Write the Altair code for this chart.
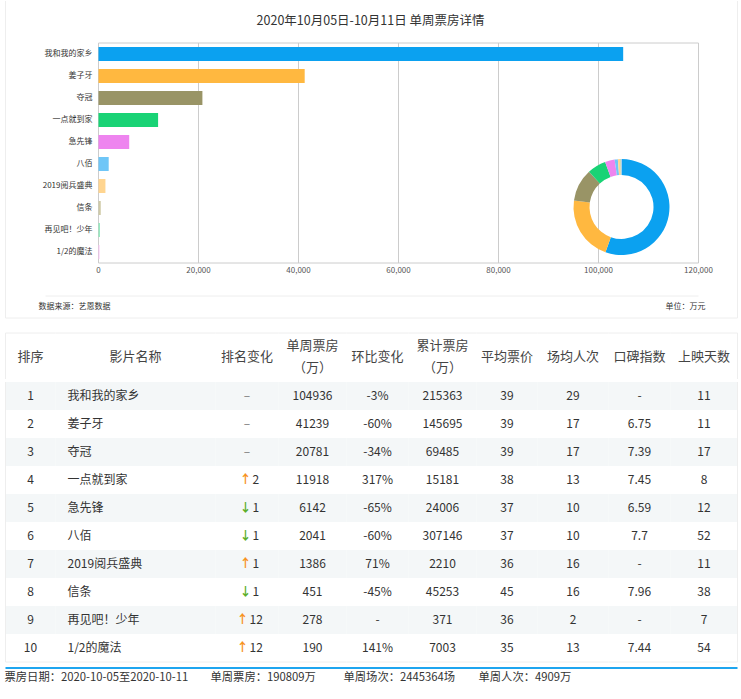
import altair as alt
import pandas as pd

FONT = "Noto Sans CJK SC"

title_text = "2020年10月05日-10月11日 单周票房详情"
source_text = "数据来源：艺恩数据"
unit_text = "单位：万元"

films = ["我和我的家乡", "姜子牙", "夺冠", "一点就到家", "急先锋", "八佰",
         "2019阅兵盛典", "信条", "再见吧！少年", "1/2的魔法"]
weekly = [104936, 41239, 20781, 11918, 6142, 2041, 1386, 451, 278, 190]
colors = ["#0ba1f0", "#ffb840", "#999466", "#19d375", "#ee84ef", "#6fc6f7",
          "#ffd590", "#cfcaa7", "#8ee8ba", "#f9c0f3"]
ranks = list(range(1, 11))
rank_dir = ["", "", "", "up", "down", "down", "up", "down", "up", "up"]
rank_num = ["", "", "", "2", "1", "1", "1", "1", "12", "12"]
wow = ["-3%", "-60%", "-34%", "317%", "-65%", "-60%", "71%", "-45%", "-", "141%"]
total = [215363, 145695, 69485, 15181, 24006, 307146, 2210, 45253, 371, 7003]
avg_price = [39, 39, 39, 38, 37, 37, 36, 45, 36, 35]
avg_people = [29, 17, 17, 13, 10, 10, 16, 16, 2, 13]
score = ["-", "6.75", "7.39", "7.45", "6.59", "7.7", "-", "7.96", "-", "7.44"]
days = [11, 11, 17, 8, 12, 52, 11, 38, 7, 54]
x_ticks = [0, 20000, 40000, 60000, 80000, 100000, 120000]

headers = ["排序", "影片名称", "排名变化", "单周票房\n（万）", "环比变化",
           "累计票房\n（万）", "平均票价", "场均人次", "口碑指数", "上映天数"]
footer_items = ["票房日期：2020-10-05至2020-10-11", "单周票房：190809万",
                "单周场次：2445364场", "单周人次：4909万"]

# ---------------- layout / style ----------------
TOTAL_W = 732
TOP_H = 317
PX0, PX1 = 93, 693      # plot box inside the top panel
PY0, PY1 = 42, 262
GRID = "#cccccc"
FRAME = "#eeeeee"
STRIPE = "#f4f7f8"
TXT = "#333333"
UP = "#f7931e"
DOWN = "#5cae2a"
col_widths = [50, 160, 63, 68, 62, 68, 61, 71, 62, 67]
ROW_H = 28
BODY_H = ROW_H * 10
HEAD_H = 48
HEAD_RULE = 46
LINE_H = 22

df = pd.DataFrame({"film": films, "weekly": weekly, "rank": ranks})
ticks_df = pd.DataFrame({"tick": x_ticks})
one = pd.DataFrame({"d": [0]})

color_scale = alt.Scale(domain=films, range=colors)
xs = alt.Scale(domain=[0, 120000], range=[PX0, PX1], nice=False, zero=True)
ys = alt.Scale(domain=films, range=[PY0, PY1], paddingInner=0.1, paddingOuter=0.05)

grid = alt.Chart(ticks_df).mark_rule(color=GRID).encode(
    x=alt.X("tick:Q", scale=xs, axis=None), y=alt.value(PY0), y2=alt.value(PY1))

xlabels = alt.Chart(ticks_df).mark_text(fontSize=8, color="#555", baseline="middle").encode(
    x=alt.X("tick:Q", scale=xs, axis=None),
    y=alt.value(PY1 + 8),
    text=alt.Text("tick:Q", format=",d"))

frame_box = [
    alt.Chart(one).mark_rule(color=GRID).encode(x=alt.value(PX0), x2=alt.value(PX1), y=alt.value(PY0)),
    alt.Chart(one).mark_rule(color=GRID).encode(x=alt.value(PX0), x2=alt.value(PX1), y=alt.value(PY1)),
]

bars = alt.Chart(df).mark_bar(size=14).encode(
    x=alt.X("weekly:Q", scale=xs, axis=None),
    y=alt.Y("film:N", sort=films, scale=ys, axis=None),
    color=alt.Color("film:N", scale=color_scale, legend=None),
)

ylabels = alt.Chart(df).mark_text(fontSize=8, color=TXT, align="right", baseline="middle").encode(
    y=alt.Y("film:N", sort=films, scale=ys, axis=None),
    x=alt.value(PX0 - 6),
    text="film:N",
)

donut = alt.Chart(df).mark_arc(outerRadius=48, innerRadius=32).encode(
    theta=alt.Theta("weekly:Q", stack=True),
    color=alt.Color("film:N", scale=color_scale, legend=None),
    order=alt.Order("rank:Q"),
    x=alt.value(616), y=alt.value(206),
)

title = alt.Chart(pd.DataFrame({"t": [title_text]})).mark_text(
    fontSize=12.5, color=TXT, baseline="middle").encode(
    text="t:N", x=alt.value(365), y=alt.value(20))

src = alt.Chart(pd.DataFrame({"t": [source_text]})).mark_text(
    fontSize=8, color=TXT, align="left", baseline="middle").encode(
    text="t:N", x=alt.value(33), y=alt.value(306))

unit = alt.Chart(pd.DataFrame({"t": [unit_text]})).mark_text(
    fontSize=8, color=TXT, align="right", baseline="middle").encode(
    text="t:N", x=alt.value(700), y=alt.value(306))

sep = alt.Chart(one).mark_rule(color=FRAME).encode(
    x=alt.value(40), x2=alt.value(PX1), y=alt.value(295))

frame_l = alt.Chart(one).mark_rule(color=FRAME).encode(
    x=alt.value(0), y=alt.value(0), y2=alt.value(TOP_H))
frame_r = alt.Chart(one).mark_rule(color=FRAME).encode(
    x=alt.value(TOTAL_W), y=alt.value(0), y2=alt.value(TOP_H))
frame_b = alt.Chart(one).mark_rule(color=FRAME).encode(
    x=alt.value(0), x2=alt.value(TOTAL_W), y=alt.value(TOP_H))

top = alt.layer(frame_l, frame_r, frame_b, sep, grid, *frame_box, bars, ylabels,
                xlabels, donut, title, src, unit).properties(width=TOTAL_W, height=TOP_H)

# ---------------- table ----------------
tdf = pd.DataFrame({
    "rank": ranks,
    "rank_s": [str(r) for r in ranks],
    "film": films,
    "rdir": rank_dir,
    "rnum": rank_num,
    "weekly_s": [str(v) for v in weekly],
    "wow": wow,
    "total_s": [str(v) for v in total],
    "price_s": [str(v) for v in avg_price],
    "people_s": [str(v) for v in avg_people],
    "score": score,
    "days_s": [str(v) for v in days],
})
fields = ["rank_s", "film", None, "weekly_s", "wow", "total_s",
          "price_s", "people_s", "score", "days_s"]


def header_col(i):
    w = col_widths[i]
    n_lines = headers[i].count("\n") + 1
    y0 = HEAD_H / 2 - (n_lines - 1) * LINE_H / 2
    layers = [
        alt.Chart(one).mark_rule(color=FRAME).encode(
            x=alt.value(0), x2=alt.value(w), y=alt.value(0)),
        alt.Chart(pd.DataFrame({"h": [headers[i]]})).mark_text(
            fontSize=13, color="#444", baseline="middle", lineBreak="\n",
            lineHeight=LINE_H).encode(text="h:N", x=alt.value(w / 2), y=alt.value(y0)),
    ]
    if i == 0:
        layers.append(alt.Chart(one).mark_rule(color=FRAME).encode(
            x=alt.value(0), y=alt.value(0), y2=alt.value(HEAD_RULE)))
    if i == len(col_widths) - 1:
        layers.append(alt.Chart(one).mark_rule(color=FRAME).encode(
            x=alt.value(w), y=alt.value(0), y2=alt.value(HEAD_RULE)))
    return alt.layer(*layers).properties(width=w, height=HEAD_H)


def body_col(i):
    w = col_widths[i]
    ysc = alt.Y("rank:O", axis=None, scale=alt.Scale(paddingInner=0, paddingOuter=0))
    base = alt.Chart(tdf).encode(y=ysc)
    layers = [base.mark_rect().encode(
        x=alt.value(0), x2=alt.value(w),
        color=alt.condition("datum.rank % 2 == 1", alt.value(STRIPE), alt.value("#ffffff")))]
    if i == 1:
        layers.append(base.mark_text(fontSize=12, color=TXT, align="left").encode(
            x=alt.value(12), text="film:N"))
    elif i == 2:
        c = w / 2
        layers.append(base.mark_text(fontSize=12, color="#777").encode(
            x=alt.value(c), text=alt.value("–")).transform_filter("datum.rdir == ''"))
        for ln, ax, nx in [(1, c - 1.5, c + 5.5), (2, c - 4.5, c + 2.5)]:
            flt = f"datum.rdir != '' && length(datum.rnum) == {ln}"
            layers.append(base.mark_text(fontSize=12, fontWeight="bold").encode(
                x=alt.value(ax),
                text=alt.Text("arrow:N"),
                color=alt.condition("datum.rdir == 'up'", alt.value(UP), alt.value(DOWN)),
            ).transform_filter(flt).transform_calculate(
                arrow="datum.rdir == 'up' ? '↑' : '↓'"))
            layers.append(base.mark_text(fontSize=12, color=TXT, align="left").encode(
                x=alt.value(nx), text="rnum:N").transform_filter(flt))
    else:
        layers.append(base.mark_text(fontSize=12, color=TXT).encode(
            x=alt.value(w / 2), text=f"{fields[i]}:N"))
    layers.append(alt.Chart(one).mark_rule(color=FRAME).encode(
        x=alt.value(0), x2=alt.value(w), y=alt.value(BODY_H)))
    if i == 0:
        layers.append(alt.Chart(one).mark_rule(color=FRAME).encode(
            x=alt.value(0), y=alt.value(0), y2=alt.value(BODY_H)))
    if i == len(col_widths) - 1:
        layers.append(alt.Chart(one).mark_rule(color=FRAME).encode(
            x=alt.value(w), y=alt.value(0), y2=alt.value(BODY_H)))
    return alt.layer(*layers).properties(width=w, height=BODY_H)


header_row = alt.hconcat(*[header_col(i) for i in range(len(col_widths))],
                         spacing=0, bounds="flush")
body_row = alt.hconcat(*[body_col(i) for i in range(len(col_widths))],
                       spacing=0, bounds="flush").resolve_scale(y="independent")
table = alt.vconcat(header_row, body_row, spacing=0)

# ---------------- footer ----------------
foot_x = [-1, 205, 338, 473]
foot_layers = [alt.Chart(one).mark_rule(color="#1ea5ef", strokeWidth=2).encode(
    x=alt.value(0), x2=alt.value(TOTAL_W), y=alt.value(0))]
for t, fx in zip(footer_items, foot_x):
    foot_layers.append(alt.Chart(pd.DataFrame({"t": [t]})).mark_text(
        fontSize=11.3, color=TXT, align="left", baseline="middle").encode(
        text="t:N", x=alt.value(fx), y=alt.value(10)))
footer = alt.layer(*foot_layers).properties(width=TOTAL_W, height=20)

chart = alt.vconcat(
    top,
    alt.vconcat(table, footer, spacing=4),
    spacing=13,
).resolve_scale(x="independent", y="independent", color="independent").properties(
    padding={"left": 4.5, "top": 0, "right": 0, "bottom": 0}
).configure(font=FONT).configure_view(stroke=None)

chart.save("out.html", embed_options={"renderer": "svg", "actions": False})
